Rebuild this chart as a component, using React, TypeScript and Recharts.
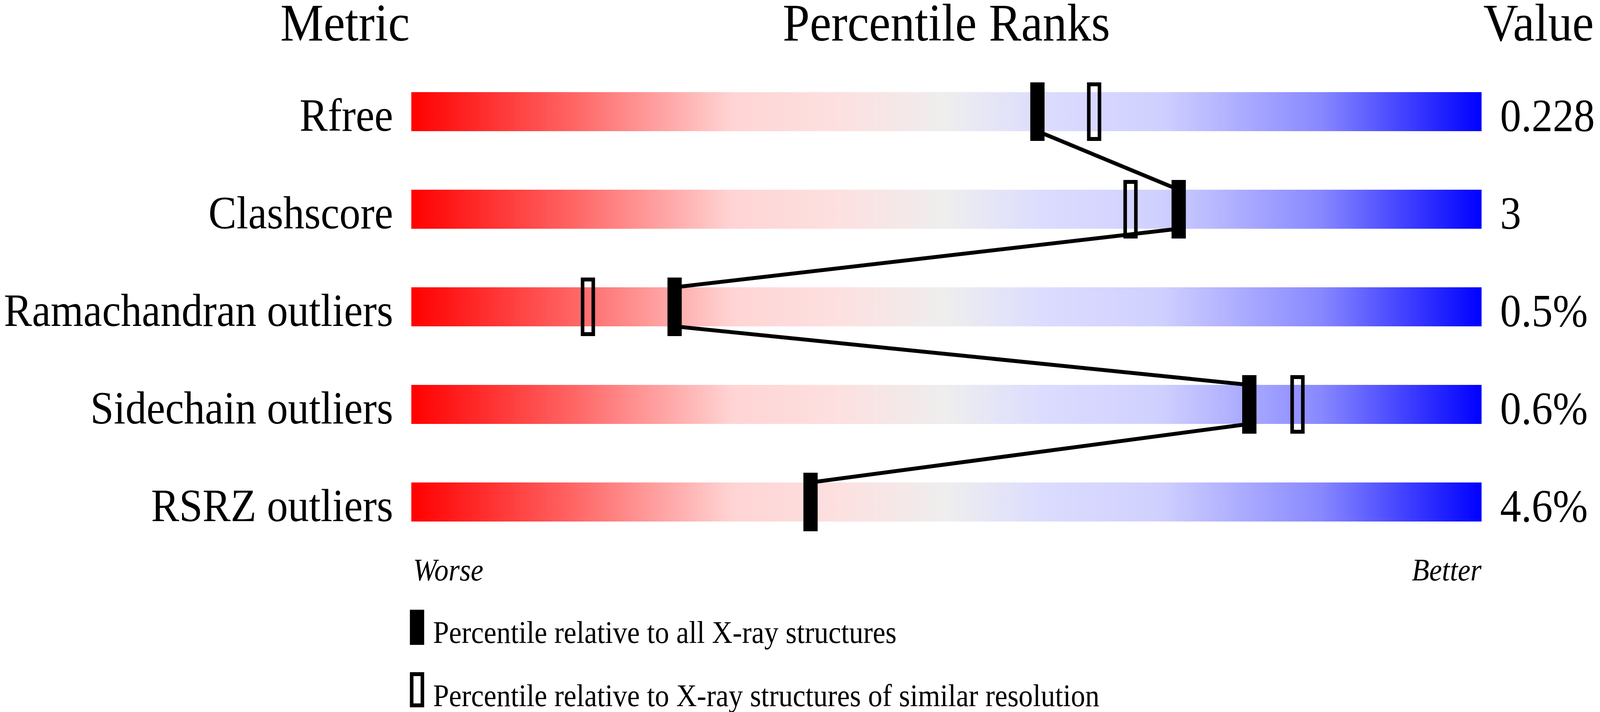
import React from "react";
import { ComposedChart, XAxis, YAxis, Scatter, ReferenceArea } from "recharts";

const METRICS = ["Rfree", "Clashscore", "Ramachandran outliers", "Sidechain outliers", "RSRZ outliers"];
const VALUES = ["0.228", "3", "0.5%", "0.6%", "4.6%"];
// percentile vs all X-ray structures
const PCT_ALL = [58.5, 71.7, 24.6, 78.3, 37.3];
// percentile vs structures of similar resolution (none for RSRZ)
const PCT_SIMILAR: (number | null)[] = [63.8, 67.2, 16.5, 82.8, null];
const ROWS = METRICS.map((_, i) => i);

const LEGEND = [
  { label: "Percentile relative to all X-ray structures", filled: true },
  { label: "Percentile relative to X-ray structures of similar resolution", filled: false },
];

const W = 4485;
const H = 1824;
const FONT = "'Liberation Serif', 'Times New Roman', serif";
const HALF = 0.2; // half bar height in row units

const allPoints = PCT_ALL.map((p, i) => ({ x: p, y: i }));
const similarPoints = PCT_SIMILAR.flatMap((p, i) => (p == null ? [] : [{ x: p, y: i }]));
// line runs down through each marker and across to the next one
const linkPoints = PCT_ALL.flatMap((p, i) => [
  { x: p, y: i - HALF },
  { x: p, y: i + HALF },
]);
const rowPoints = ROWS.map((i) => ({ x: 50, y: i }));

const FilledMark = (props: any) => (
  <rect x={props.cx - 20} y={props.cy - 75} width={40} height={150} fill="#000" />
);
const OpenMark = (props: any) => (
  <rect x={props.cx - 15} y={props.cy - 70} width={30} height={140} fill="none" stroke="#000" strokeWidth={10} />
);

const MetricTick = (props: any) => (
  <text x={props.x - 51} y={props.y + 49} textAnchor="end" fontSize={118} fontFamily={FONT} fill="#000">
    {METRICS[props.payload.value]}
  </text>
);
const ValueTick = (props: any) => (
  <text x={props.x + 52} y={props.y + 50} textAnchor="start" fontSize={118} fontFamily={FONT} fill="#000">
    {VALUES[props.payload.value]}
  </text>
);

export default function App() {
  // the page may be narrower than the design size; stretch the drawing to fill it
  const vw = typeof window !== "undefined" ? window.innerWidth : W;
  const vh = typeof window !== "undefined" ? window.innerHeight : H;
  return (
    <div style={{ position: "absolute", left: 0, top: 0, width: vw, height: vh, overflow: "hidden", background: "#fff" }}>
      <div style={{ width: W, height: H, transform: `scale(${vw / W}, ${vh / H})`, transformOrigin: "0 0" }}>
        <ComposedChart width={W} height={H} margin={{ top: 161, right: 0, bottom: 413, left: 0 }}>
          <defs>
            <linearGradient id="rankGrad" x1="0" y1="0" x2="1" y2="0">
              <stop offset="0%" stopColor="#ff0000" />
              <stop offset="15%" stopColor="#ff6464" />
              <stop offset="30%" stopColor="#ffd4d4" />
              <stop offset="40%" stopColor="#fde0e0" />
              <stop offset="50%" stopColor="#eeeeee" />
              <stop offset="59%" stopColor="#dcdcff" />
              <stop offset="70%" stopColor="#d0d0ff" />
              <stop offset="85%" stopColor="#8888ff" />
              <stop offset="100%" stopColor="#0000ff" />
            </linearGradient>
          </defs>
          <XAxis type="number" dataKey="x" domain={[0, 100]} hide />
          <YAxis
            yAxisId="left"
            type="number"
            dataKey="y"
            domain={[-0.5, 4.5]}
            reversed
            ticks={ROWS}
            interval={0}
            width={1153}
            axisLine={false}
            tickLine={false}
            tickSize={0}
            tickMargin={0}
            tick={<MetricTick />}
          />
          <YAxis
            yAxisId="right"
            orientation="right"
            type="number"
            dataKey="y"
            domain={[-0.5, 4.5]}
            reversed
            ticks={ROWS}
            interval={0}
            width={332}
            axisLine={false}
            tickLine={false}
            tickSize={0}
            tickMargin={0}
            tick={<ValueTick />}
          />
          {ROWS.map((i) => (
            <ReferenceArea
              key={`bar-${i}`}
              yAxisId="left"
              x1={0}
              x2={100}
              y1={i - HALF}
              y2={i + HALF}
              fill="url(#rankGrad)"
              fillOpacity={1}
              stroke="none"
            />
          ))}
          <Scatter yAxisId="right" data={rowPoints} shape={() => <g />} isAnimationActive={false} />
          <Scatter
            yAxisId="left"
            data={linkPoints}
            line={{ stroke: "#000", strokeWidth: 10 }}
            shape={() => <g />}
            isAnimationActive={false}
          />
          <Scatter yAxisId="left" data={similarPoints} shape={<OpenMark />} isAnimationActive={false} />
          <Scatter yAxisId="left" data={allPoints} shape={<FilledMark />} isAnimationActive={false} />

          <g fontFamily={FONT} fill="#000">
            <text x={786} y={104} fontSize={136}>Metric</text>
            <text x={2653} y={104} fontSize={136} textAnchor="middle">Percentile Ranks</text>
            <text x={4158} y={104} fontSize={136}>Value</text>
            <text x={1158} y={1487} fontSize={80} fontStyle="italic">Worse</text>
            <text x={4153} y={1487} fontSize={80} fontStyle="italic" textAnchor="end">Better</text>
            {LEGEND.map((item, k) => (
              <g key={item.label}>
                {item.filled ? (
                  <rect x={1149} y={1562 + k * 160} width={40} height={90} fill="#000" />
                ) : (
                  <rect x={1154} y={1567 + k * 160} width={30} height={80} fill="none" stroke="#000" strokeWidth={10} />
                )}
                <text x={1214} y={1647 + k * 162} fontSize={80}>{item.label}</text>
              </g>
            ))}
          </g>
        </ComposedChart>
      </div>
    </div>
  );
}
